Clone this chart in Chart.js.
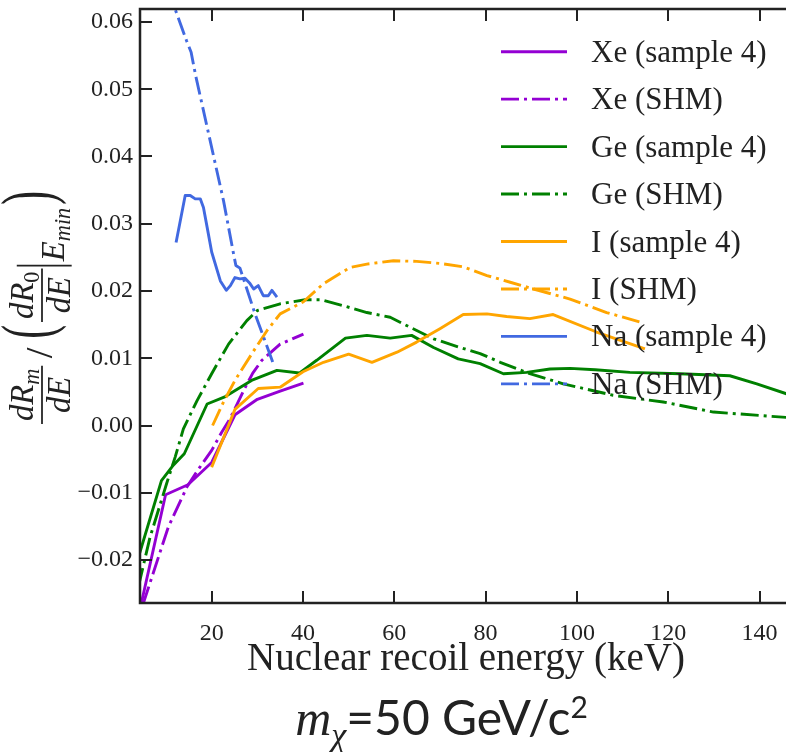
<!DOCTYPE html>
<html><head><meta charset="utf-8">
<script src="https://cdn.jsdelivr.net/npm/chart.js@4.4.1/dist/chart.umd.min.js"></script>
<style>html,body{margin:0;padding:0;background:#fff;overflow:hidden}#wrap{width:786px;height:752px;position:relative}</style>
</head><body><div id="wrap"><canvas id="c"></canvas></div>
<script>
// ---- tick values ----
const xTickValues = [20, 40, 60, 80, 100, 120, 140];
const yTickValues = [-0.02, -0.01, 0.00, 0.01, 0.02, 0.03, 0.04, 0.05, 0.06];

// ---- series (x = nuclear recoil energy keV, y = normalised rate) ----
const xeSampleE = [4.5, 9.9, 14.8, 20.0, 25.1, 30.0, 35.0, 40.1];
const xeSampleR = [-0.0267, -0.0103, -0.0088, -0.0055, 0.0016, 0.0039, 0.0051, 0.0063];

const xeShmE = [5.0, 10.5, 14.6, 17.0, 20.0, 22.2, 24.0, 27.0, 29.0, 31.0, 35.0, 40.1];
const xeShmR = [-0.0265, -0.0151, -0.0091, -0.0066, -0.0037, -0.0010, 0.0010, 0.0052, 0.0078, 0.0097, 0.0121, 0.0136];

const geSampleE = [4.0, 9.0, 11.6, 14.0, 19.0, 23.0, 29.0, 34.3, 39.2, 43.0, 49.3, 54.0, 59.1, 63.8, 68.6, 74.0, 78.8, 83.9, 89.0, 94.1, 98.5, 104.0, 111.6, 122.6, 133.5, 139.4, 146.0];
const geSampleR = [-0.0195, -0.0082, -0.0059, -0.0042, 0.0032, 0.0043, 0.0068, 0.0082, 0.0078, 0.0097, 0.0130, 0.0134, 0.0130, 0.0134, 0.0116, 0.0099, 0.0092, 0.0077, 0.0079, 0.0084, 0.0085, 0.0083, 0.0079, 0.0077, 0.0074, 0.0062, 0.0047];

const geShmE = [4.0, 6.5, 10.1, 12.0, 13.8, 16.8, 20.0, 23.7, 27.7, 30.0, 35.0, 40.5, 44.0, 48.9, 54.0, 59.1, 63.5, 68.6, 74.4, 78.8, 83.2, 89.3, 97.0, 107.9, 118.9, 129.9, 146.0];
const geShmR = [-0.0238, -0.0166, -0.0087, -0.0047, -0.0005, 0.0037, 0.0077, 0.0121, 0.0156, 0.0171, 0.0181, 0.0187, 0.0187, 0.0178, 0.0168, 0.0161, 0.0146, 0.0129, 0.0116, 0.0107, 0.0094, 0.0078, 0.0062, 0.0045, 0.0035, 0.0020, 0.0012];

const iSampleE = [20.0, 25.1, 30.2, 35.0, 40.0, 44.5, 50.0, 55.1, 60.6, 64.9, 70.0, 75.1, 80.3, 84.6, 89.7, 94.8, 104.3, 114.9];
const iSampleR = [-0.0062, 0.0024, 0.0055, 0.0057, 0.0080, 0.0094, 0.0106, 0.0094, 0.0109, 0.0124, 0.0144, 0.0165, 0.0166, 0.0162, 0.0159, 0.0165, 0.0139, 0.0114];

const iShmE = [20.2, 22.6, 25.1, 29.2, 32.1, 35.0, 40.1, 44.5, 50.3, 54.0, 59.8, 64.9, 70.0, 75.1, 80.3, 85.4, 90.5, 98.5, 106.5, 113.8];
const iShmR = [0.0000, 0.0035, 0.0067, 0.0111, 0.0141, 0.0166, 0.0184, 0.0211, 0.0235, 0.0240, 0.0245, 0.0244, 0.0241, 0.0236, 0.0223, 0.0213, 0.0203, 0.0188, 0.0168, 0.0154];

const naSampleE = [12.2, 13.0, 14.2, 15.3, 16.4, 17.5, 18.2, 19.0, 20.0, 21.9, 23.2, 24.1, 25.1, 26.2, 27.3, 28.4, 29.2, 30.2, 31.3, 32.4, 33.2, 34.3];
const naSampleR = [0.0272, 0.0300, 0.0342, 0.0342, 0.0337, 0.0337, 0.0324, 0.0295, 0.0258, 0.0215, 0.0201, 0.0208, 0.0220, 0.0218, 0.0219, 0.0211, 0.0203, 0.0208, 0.0193, 0.0193, 0.0201, 0.0191];

const naShmE = [10.5, 12.0, 14.5, 15.5, 16.5, 22.6, 24.8, 25.3, 26.2, 29.5, 33.5];
const naShmR = [0.0650, 0.0619, 0.0572, 0.0555, 0.0520, 0.0334, 0.0255, 0.0238, 0.0234, 0.0166, 0.0092];

const seriesLabels = ['Xe (sample 4)', 'Xe (SHM)', 'Ge (sample 4)', 'Ge (SHM)', 'I (sample 4)', 'I (SHM)', 'Na (sample 4)', 'Na (SHM)'];

// ---- styling ----
const SER = '"Liberation Serif","DejaVu Serif",serif';
const SANS = 'Lato,"Open Sans","Noto Sans",sans-serif';
const INK = '#222';
const DASHDOT = [18, 5, 3, 5];
const colors = ['#9400D3', '#9400D3', '#008000', '#008000', '#FFA500', '#FFA500', '#4169E1', '#4169E1'];
const dashes = [[], DASHDOT, [], DASHDOT, [], DASHDOT, [], DASHDOT];
const seriesE = [xeSampleE, xeShmE, geSampleE, geShmE, iSampleE, iShmE, naSampleE, naShmE];
const seriesR = [xeSampleR, xeShmR, geSampleR, geShmR, iSampleR, iShmR, naSampleR, naShmR];

const datasets = seriesLabels.map((lab, i) => ({
  label: lab,
  data: seriesE[i].map((e, k) => ({ x: e, y: seriesR[i][k] })),
  borderColor: colors[i], backgroundColor: colors[i],
  borderWidth: 2.9, borderDash: dashes[i], borderCapStyle: 'butt', borderJoinStyle: 'round',
  pointRadius: 0, tension: 0, fill: false, order: seriesLabels.length - i
}));

function fmtY(v) {
  const s = Math.abs(v) < 1e-9 ? '0.00' : v.toFixed(2);
  return s.replace('-', '\u2212');
}

const decor = {
  id: 'decor',
  afterDraw(chart) {
    const ctx = chart.ctx;
    const { left, right, top, bottom } = chart.chartArea;
    const xs = chart.scales.x, ys = chart.scales.y;
    ctx.save();
    // ticks (inward)
    ctx.strokeStyle = INK; ctx.lineWidth = 2;
    ctx.beginPath();
    xTickValues.forEach(v => {
      const p = Math.round(xs.getPixelForValue(v));
      ctx.moveTo(p, bottom); ctx.lineTo(p, bottom - 12);
      ctx.moveTo(p, top); ctx.lineTo(p, top + 12);
    });
    yTickValues.forEach(v => {
      const p = Math.round(ys.getPixelForValue(v));
      ctx.moveTo(left, p); ctx.lineTo(left + 12, p);
    });
    ctx.stroke();
    // spines
    ctx.lineWidth = 2.5;
    ctx.beginPath();
    ctx.moveTo(right + 2, top); ctx.lineTo(left, top); ctx.lineTo(left, bottom); ctx.lineTo(right + 2, bottom);
    ctx.stroke();

    // legend
    const rowY0 = 51.7, rowStep = 47.45;
    chart.data.datasets.forEach((ds, i) => {
      const y = rowY0 + i * rowStep;
      ctx.strokeStyle = ds.borderColor; ctx.lineWidth = ds.borderWidth;
      ctx.setLineDash(ds.borderDash || []);
      ctx.beginPath(); ctx.moveTo(501, y); ctx.lineTo(567, y); ctx.stroke();
      ctx.setLineDash([]);
      ctx.fillStyle = INK; ctx.font = '31px ' + SER; ctx.textBaseline = 'alphabetic'; ctx.textAlign = 'left';
      ctx.fillText(ds.label, 591, y + 10);
    });

    // x title
    ctx.fillStyle = INK; ctx.font = '39px ' + SER; ctx.textAlign = 'center';
    ctx.fillText('Nuclear recoil energy (keV)', 466, 670);

    // caption m_chi = 50 GeV/c^2
    ctx.textAlign = 'left';
    const parts = [
      { t: 'm', f: 'italic 50px ' + SER, dy: 0 },
      { t: '\u03C7', f: 'italic 34px ' + SER, dy: 11 },
      { t: '=50 GeV/c', f: '48px ' + SANS, dy: 0 },
      { t: '2', f: '30px ' + SANS, dy: -17 }
    ];
    let tw = 0; parts.forEach(p => { ctx.font = p.f; p.w = ctx.measureText(p.t).width; tw += p.w; });
    let cx = 441.5 - tw / 2;
    parts.forEach(p => { ctx.font = p.f; ctx.fillText(p.t, cx, 735 + p.dy); cx += p.w; });

    drawYTitle(ctx);
    ctx.restore();
  }
};

function drawYTitle(ctx) {
  const it = s => 'italic ' + s + 'px ' + SER, up = s => s + 'px ' + SER;
  const mw = (t, f) => { ctx.font = f; return ctx.measureText(t).width; };
  const items = []; let x = 0;
  function frac(num, den) {
    const wN = num.reduce((a, p) => a + mw(p[0], p[1]), 0);
    const wD = den.reduce((a, p) => a + mw(p[0], p[1]), 0);
    const w = Math.max(wN, wD) + 4;
    let nx = x + (w - wN) / 2;
    num.forEach(p => { items.push({ t: p[0], f: p[1], x: nx, y: -6 + (p[2] || 0) }); nx += mw(p[0], p[1]); });
    let dx = x + (w - wD) / 2;
    den.forEach(p => { items.push({ t: p[0], f: p[1], x: dx, y: 19 + (p[2] || 0) }); dx += mw(p[0], p[1]); });
    items.push({ line: [x, 0, x + w, 0], lw: 1.2 });
    x += w;
  }
  function txt(t, f, y, gapAfter, sy) { items.push({ t, f, x, y, sy: sy || 1 }); x += mw(t, f) + (gapAfter || 0); }
  frac([['dR', it(22)], ['m', it(15), 4]], [['dE', it(22)]]);
  x += 5; txt('/', up(26), 7, 6);
  txt('(', up(28), 6, 2, 1.75);
  frac([['dR', it(22)], ['0', up(15), 4]], [['dE', it(22)]]);
  x += 2; items.push({ line: [x, -17, x, 20], lw: 1.2 }); x += 3;
  txt('E', it(22), 15, 0);
  txt('min', it(15), 19, 2);
  txt(')', up(28), 6, 0, 1.75);
  const W = x, L = 233, s = L / W;
  ctx.save();
  ctx.translate(42, 307.5); ctx.rotate(-Math.PI / 2); ctx.scale(s, s); ctx.translate(-W / 2, 0);
  ctx.fillStyle = INK; ctx.strokeStyle = INK; ctx.textAlign = 'left'; ctx.textBaseline = 'alphabetic';
  items.forEach(o => {
    if (o.line) { ctx.lineWidth = o.lw; ctx.beginPath(); ctx.moveTo(o.line[0], o.line[1]); ctx.lineTo(o.line[2], o.line[3]); ctx.stroke(); }
    else {
      ctx.font = o.f;
      if (o.sy && o.sy !== 1) { ctx.save(); ctx.translate(o.x, o.y); ctx.scale(1, o.sy); ctx.fillText(o.t, 0, 0); ctx.restore(); }
      else ctx.fillText(o.t, o.x, o.y);
    }
  });
  ctx.restore();
}

new Chart(document.getElementById('c'), {
  type: 'line',
  data: { datasets },
  options: {
    responsive: true, maintainAspectRatio: false, animation: false, events: [],
    layout: { padding: { top: 9, right: 0, left: 0, bottom: 0 } },
    plugins: { legend: { display: false }, tooltip: { enabled: false } },
    scales: {
      x: {
        type: 'linear', min: 4.3, max: 145.8,
        grid: { display: false, drawTicks: false }, border: { display: false },
        ticks: { font: { family: SER, size: 24 }, color: INK, padding: 16, maxRotation: 0, callback: v => String(v) },
        afterBuildTicks: s => { s.ticks = xTickValues.map(v => ({ value: v })); },
        afterFit: s => { s.height = 149; s.paddingLeft = 0; s.paddingRight = 0; }
      },
      y: {
        type: 'linear', min: -0.02639, max: 0.06193,
        grid: { display: false, drawTicks: false }, border: { display: false },
        ticks: { font: { family: SER, size: 24 }, color: INK, padding: 7, callback: v => fmtY(v) },
        afterBuildTicks: s => { s.ticks = yTickValues.map(v => ({ value: v })); },
        afterFit: s => { s.width = 140; s.paddingTop = 0; s.paddingBottom = 0; }
      }
    }
  },
  plugins: [decor]
});
</script>
</body></html>
